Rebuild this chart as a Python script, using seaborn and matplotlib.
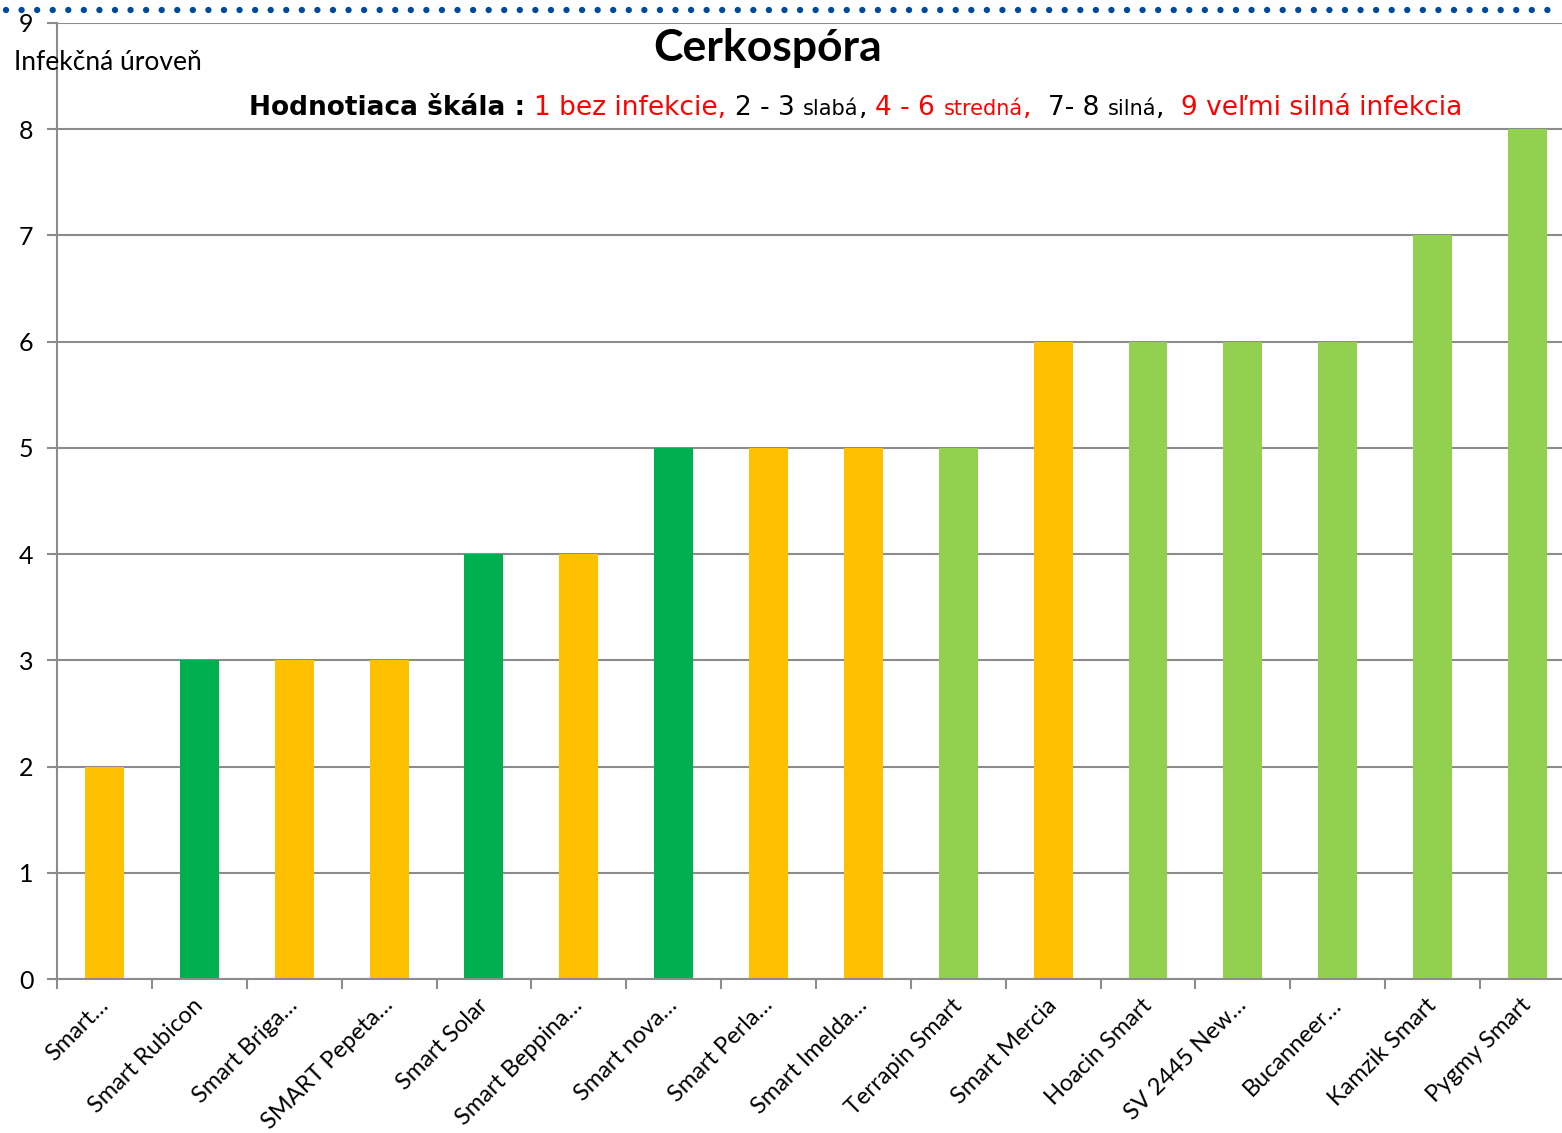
import numpy as np
import pandas as pd
import matplotlib
matplotlib.use("Agg")
import matplotlib.pyplot as plt
import matplotlib.transforms as mtransforms
import seaborn as sns
from matplotlib.lines import Line2D
from matplotlib.offsetbox import TextArea, HPacker, AnnotationBbox

# odrody a úroveň infekcie (cerkospóra)
odrody = ["Smart…", "Smart Rubicon", "Smart Briga…", "SMART Pepeta…", "Smart Solar",
          "Smart Beppina…", "Smart nova…", "Smart Perla…", "Smart Imelda…", "Terrapin Smart",
          "Smart Mercia", "Hoacin Smart", "SV 2445 New…", "Bucanneer…", "Kamzik Smart",
          "Pygmy Smart"]
infekcia = [2, 3, 3, 3, 4, 4, 5, 5, 5, 5, 6, 6, 6, 6, 7, 8]

ORANZ = "#FFC000"
ZELENA = "#00B050"
SVZEL = "#92D050"
farby = [ORANZ, ZELENA, ORANZ, ORANZ, ZELENA, ORANZ, ZELENA, ORANZ, ORANZ, SVZEL,
         ORANZ, SVZEL, SVZEL, SVZEL, SVZEL, SVZEL]

y_ticks = list(range(10))

sns.set_theme(style="white")
plt.rcParams["font.family"] = ["Lato", "DejaVu Sans"]
plt.rcParams["text.color"] = "black"
plt.rcParams["lines.scale_dashes"] = False

df = pd.DataFrame({"odroda": odrody, "infekcia": infekcia})

fig = plt.figure(figsize=(15.62, 11.33), dpi=100)
ax = fig.add_axes([0.0365, 0.1359, 0.9718, 0.8438])

sns.barplot(data=df, x="odroda", y="infekcia", hue="odroda", palette=farby,
            width=0.41, saturation=1, linewidth=0, legend=False, ax=ax)

grey = "#8C8C8C"
ax.set_ylim(0, 9)
ax.set_xlim(-0.5, 15.5)
ax.set_yticks(y_ticks)
ax.yaxis.grid(True, color=grey, lw=1.5)
ax.set_axisbelow(True)
ax.set_xlabel("")
ax.set_ylabel("")

for s in ["top", "right"]:
    ax.spines[s].set_visible(False)
for s in ["left", "bottom"]:
    ax.spines[s].set_color(grey)
    ax.spines[s].set_linewidth(1.5)

ax.set_xticks(np.arange(-0.5, 16, 1), minor=True)
ax.tick_params(axis="x", which="major", length=0, labelsize=17, pad=9, labelcolor="black")
ax.tick_params(axis="x", which="minor", length=7, width=1.5, color=grey, direction="out")
ax.tick_params(axis="y", length=7, width=1.5, color=grey, direction="out", labelsize=18,
               pad=10, labelcolor="black")
ax.xaxis.set_ticks_position("bottom")
ax.yaxis.set_ticks_position("left")
posun = mtransforms.ScaledTranslation(-0.07, -0.03, fig.dpi_scale_trans)
for lab in ax.get_xticklabels():
    lab.set_rotation(45)
    lab.set_ha("right")
    lab.set_rotation_mode("anchor")
    lab.set_transform(lab.get_transform() + posun)

# nadpis
fig.text(0.4917, 0.9574, "Cerkospóra", ha="center", va="center",
         fontsize=32, fontweight="bold", color="black")
fig.text(0.009, 0.9444, "Infekčná úroveň", ha="left", va="center", fontsize=19,
         color="black")

# hodnotiaca škála
casti = [
    ("Hodnotiaca škála : ", "black", 19, "bold"),
    ("1 bez infekcie, ", "red", 19, "normal"),
    ("2 - 3 ", "black", 19, "normal"),
    ("slabá", "black", 15, "normal"),
    (", ", "black", 19, "normal"),
    ("4 - 6 ", "red", 19, "normal"),
    ("stredná", "red", 15, "normal"),
    (",  ", "red", 19, "normal"),
    ("7- 8 ", "black", 19, "normal"),
    ("silná", "black", 15, "normal"),
    (",  ", "black", 19, "normal"),
    ("9 veľmi silná infekcia", "red", 19, "normal"),
]
boxy = [TextArea(t, textprops=dict(color=c, fontsize=fs, fontweight=fw,
                                   family=["DejaVu Sans"]))
        for t, c, fs, fw in casti]
pack = HPacker(children=boxy, align="baseline", pad=0, sep=0)
fig.add_artist(AnnotationBbox(pack, (0.548, 0.9045), xycoords="figure fraction",
                              frameon=False, box_alignment=(0.5, 0.5)))

# bodkovaná čiara hore
fig.add_artist(Line2D([0.004, 1.0], [0.991, 0.991], transform=fig.transFigure,
                      color="#004A9C", lw=4.6, ls=(0, (0.01, 11.2)),
                      dash_capstyle="round"))

fig.savefig("out.png", dpi=100)
